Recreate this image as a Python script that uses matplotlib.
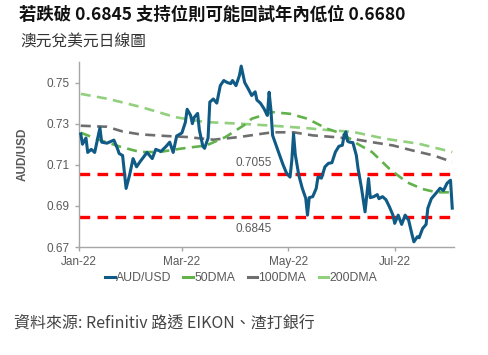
import matplotlib
matplotlib.use('Agg')
import matplotlib.pyplot as plt
import matplotlib.dates as mdates
from matplotlib.lines import Line2D
import pandas as pd

START = pd.Timestamp('2022-01-01')

# AUD/USD spot (day offset from 1 Jan 2022, value)
aud_days = [1, 2, 4, 5, 7, 9, 12, 13, 16, 20, 22, 23, 25, 27, 29, 31, 33, 35,
            39, 42, 44, 47, 50, 52, 54, 56, 59, 61, 62, 64, 65, 66, 68, 69,
            71, 72, 74, 75, 77, 79, 81, 83, 85, 87, 88, 90, 92, 93, 95, 97,
            99, 101, 102, 104, 106, 108, 109, 110, 111, 113, 115, 117, 119,
            121, 122, 123, 124, 126, 128, 130, 131, 132, 134, 136, 137, 139,
            141, 143, 145, 147, 149, 151, 152, 153, 154, 155, 157, 159, 160,
            162, 164, 166, 167, 169, 171, 172, 174, 176, 178, 180, 181, 183,
            185, 187, 189, 191, 192, 194, 195, 197, 199, 200, 202, 205, 207,
            209, 211, 213, 214]
aud_vals = [0.725, 0.720, 0.723, 0.716, 0.7175, 0.716, 0.728, 0.721, 0.7205,
            0.722, 0.718, 0.7155, 0.7145, 0.6985, 0.705, 0.713, 0.709, 0.7115,
            0.716, 0.713, 0.7175, 0.7165, 0.719, 0.721, 0.716, 0.724, 0.7255,
            0.7307, 0.737, 0.734, 0.730, 0.733, 0.735, 0.727, 0.719, 0.718,
            0.723, 0.7405, 0.742, 0.740, 0.7485, 0.751, 0.750, 0.7495, 0.751,
            0.7485, 0.7535, 0.758, 0.750, 0.747, 0.7437, 0.7455, 0.7415, 0.740,
            0.7374, 0.734, 0.7453, 0.737, 0.7243, 0.7195, 0.7147, 0.710, 0.7059,
            0.704, 0.712, 0.725, 0.715, 0.705, 0.6986, 0.6937, 0.6855, 0.694,
            0.6945, 0.6985, 0.704, 0.7035, 0.709, 0.7107, 0.711, 0.7162, 0.719,
            0.7195, 0.7243, 0.726, 0.7215, 0.721, 0.7208, 0.7146, 0.7081,
            0.6985, 0.6871, 0.7033, 0.694, 0.6945, 0.6955, 0.6935, 0.6945,
            0.693, 0.6895, 0.6855, 0.6815, 0.6855, 0.681, 0.6855, 0.683,
            0.6758, 0.6725, 0.675, 0.6745, 0.679, 0.681, 0.6889, 0.6935,
            0.6965, 0.6986, 0.6975, 0.701, 0.7025, 0.6889]

dma50_days = [1, 12, 24, 35, 46, 58, 73, 84, 96, 99, 108, 111, 121, 131, 142,
              151, 159, 168, 178, 188, 197, 205, 213]
dma50_vals = [0.7256, 0.722, 0.7187, 0.7162, 0.7162, 0.7178, 0.7194, 0.7235,
              0.730, 0.7324, 0.7348, 0.7356, 0.7348, 0.7324, 0.7276, 0.7251,
              0.7205, 0.7162, 0.708, 0.7015, 0.6982, 0.6966, 0.6966]

dma100_days = [1, 16, 25, 35, 50, 62, 77, 92, 104, 111, 123, 134, 146, 157,
               168, 180, 191, 203, 214]
dma100_vals = [0.729, 0.7285, 0.7262, 0.7248, 0.7240, 0.7235, 0.7222, 0.7235,
               0.725, 0.7258, 0.7258, 0.7243, 0.7235, 0.7226, 0.721, 0.7194,
               0.717, 0.7146, 0.7114]

dma200_days = [1, 17, 36, 55, 72, 92, 111, 131, 138, 157, 176, 195, 214]
dma200_vals = [0.7445, 0.742, 0.738, 0.7332, 0.7308, 0.730, 0.729, 0.7278,
               0.7272, 0.726, 0.7226, 0.7202, 0.7162]

support_levels = [0.7055, 0.6845]
support_labels = ['0.7055', '0.6845']
label_day = 100
label_vals = [0.7107, 0.6787]

yticks = [0.67, 0.69, 0.71, 0.73, 0.75]


def to_dates(days):
    return START + pd.to_timedelta(days, unit='D')


CJK = ['Noto Sans CJK TC', 'DejaVu Sans']
LAT = ['Liberation Sans', 'DejaVu Sans']
GREY = '#595959'

fig = plt.figure(figsize=(4.88, 3.55), dpi=100)
ax = fig.add_axes([79 / 488, 1 - 247 / 355, (454 - 79) / 488, (247 - 62) / 355])

c_aud = '#0f5b85'
c_50 = '#62b24c'
c_100 = '#6e6e6e'
c_200 = '#92cf7e'

for lvl in support_levels:
    ax.axhline(lvl, color='#ff0000', lw=2.4, ls=(0, (3.2, 2.2)), zorder=2)

ax.plot(to_dates(dma200_days), dma200_vals, color=c_200, lw=1.9, ls=(0, (3.8, 2.4)), zorder=3)
ax.plot(to_dates(dma100_days), dma100_vals, color=c_100, lw=1.9, ls=(0, (3.8, 2.4)), zorder=3)
ax.plot(to_dates(dma50_days), dma50_vals, color=c_50, lw=1.9, ls=(0, (3.8, 2.4)), zorder=3)
ax.plot(to_dates(aud_days), aud_vals, color=c_aud, lw=2.2, zorder=4)

for lab, v in zip(support_labels, label_vals):
    ax.text(to_dates([label_day])[0], v, lab, ha='center', va='center',
            fontsize=8.5, color=GREY, family=LAT)

ax.set_xlim(START, START + pd.Timedelta(days=215))
ax.set_ylim(0.67, 0.76)
ax.set_yticks(yticks)
ax.set_yticklabels([f'{t:.2f}' for t in yticks])
ax.xaxis.set_major_locator(mdates.MonthLocator(bymonth=[1, 3, 5, 7]))
ax.xaxis.set_major_formatter(mdates.DateFormatter('%b-%y'))

for s in ['top', 'right']:
    ax.spines[s].set_visible(False)
for s in ['left', 'bottom']:
    ax.spines[s].set_color('#a6a6a6')
    ax.spines[s].set_linewidth(1.0)
ax.tick_params(axis='both', colors='#a6a6a6', labelcolor=GREY, length=3,
               width=1.0, labelsize=8.5)
for lab in ax.get_xticklabels() + ax.get_yticklabels():
    lab.set_family(LAT)

ax.set_ylabel('AUD/USD', fontsize=8.5, fontweight='bold', color=GREY,
              family=LAT, labelpad=13)

handles = [
    Line2D([], [], color=c_aud, lw=2.2),
    Line2D([], [], color=c_50, lw=2.2),
    Line2D([], [], color=c_100, lw=2.2),
    Line2D([], [], color=c_200, lw=2.2),
]
fig.legend(handles, ['AUD/USD', '50DMA', '100DMA', '200DMA'], loc='center',
           bbox_to_anchor=(241 / 488, 1 - 278 / 355), ncol=4, frameon=False,
           handlelength=0.8, handletextpad=0.1, columnspacing=1.0,
           prop={'family': LAT, 'size': 8.8}, labelcolor=GREY)

fig.text(19 / 488, 1 - 15 / 355, '若跌破 0.6845 支持位則可能回試年內低位 0.6680',
         fontsize=12.5, fontweight='bold', family=CJK, color='#111111',
         ha='left', va='center')
fig.text(20 / 488, 1 - 42 / 355, '澳元兌美元日線圖', fontsize=11.3, family=CJK,
         color='#333333', ha='left', va='center')
fig.text(14 / 488, 1 - 323 / 355, '資料來源: Refinitiv 路透 EIKON、渣打銀行',
         fontsize=11.5, family=CJK, color='#444444', ha='left', va='center')

fig.savefig('out.png', dpi=100)
plt.close(fig)
